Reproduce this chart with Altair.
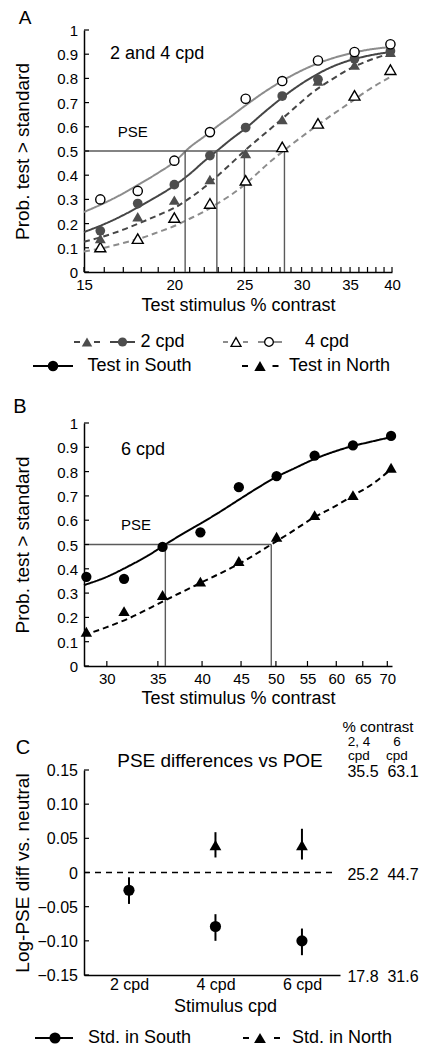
import altair as alt
import pandas as pd

FONT = "Liberation Sans"

# ---------------- Panel A data (2 and 4 cpd) ----------------
contrast_A = [15.8, 17.8, 20.0, 22.4, 25.1, 28.2, 31.6, 35.5, 39.8]
p2_south = [0.170, 0.283, 0.361, 0.481, 0.597, 0.727, 0.796, 0.881, 0.913]
p2_north = [0.138, 0.228, 0.297, 0.382, 0.490, 0.630, 0.789, 0.855, 0.908]
p4_south = [0.300, 0.335, 0.460, 0.578, 0.716, 0.789, 0.874, 0.909, 0.941]
p4_north = [0.103, 0.138, 0.225, 0.283, 0.379, 0.517, 0.614, 0.730, 0.836]

# fitted curves
fitA_x = [15, 16, 17, 18, 19, 20, 21, 22, 23, 24, 25, 27, 29, 31, 33, 35, 37, 40]
fit2_south = [0.165, 0.198, 0.235, 0.275, 0.315, 0.357, 0.405, 0.458, 0.505, 0.550, 0.590, 0.675, 0.748, 0.805, 0.847, 0.875, 0.893, 0.910]
fit2_north = [0.125, 0.148, 0.175, 0.205, 0.235, 0.265, 0.305, 0.350, 0.400, 0.450, 0.500, 0.585, 0.665, 0.740, 0.795, 0.840, 0.872, 0.905]
fit4_south = [0.248, 0.285, 0.325, 0.368, 0.410, 0.455, 0.515, 0.560, 0.605, 0.645, 0.685, 0.755, 0.810, 0.852, 0.882, 0.903, 0.918, 0.930]
fit4_north = [0.085, 0.100, 0.120, 0.140, 0.165, 0.190, 0.220, 0.250, 0.285, 0.320, 0.360, 0.450, 0.525, 0.590, 0.648, 0.700, 0.750, 0.810]
pse_A = [20.7, 22.9, 25.0, 28.4]

# ---------------- Panel B data (6 cpd) ----------------
contrast_B = [28.2, 31.6, 35.5, 39.8, 44.7, 50.1, 56.2, 63.1, 70.8]
p6_south = [0.367, 0.359, 0.490, 0.550, 0.736, 0.781, 0.866, 0.908, 0.947]
p6_north = [0.141, 0.226, 0.292, 0.347, 0.432, 0.532, 0.621, 0.703, 0.816]
fitB_s_x = [28, 30, 32, 34, 35.8, 38, 40, 42, 45, 48, 50, 53, 56, 60, 63, 66, 70.8]
fit6_south = [0.333, 0.367, 0.410, 0.455, 0.500, 0.550, 0.590, 0.630, 0.690, 0.745, 0.777, 0.815, 0.850, 0.885, 0.905, 0.920, 0.942]
fitB_n_x = [28, 30, 32, 35.5, 40, 45, 49.3, 52, 56, 60, 63, 67, 70.8]
fit6_north = [0.127, 0.160, 0.195, 0.265, 0.345, 0.425, 0.500, 0.545, 0.610, 0.660, 0.700, 0.750, 0.810]
pse_B = [35.8, 49.3]

# ---------------- Panel C data ----------------
cpd_s = [2, 4, 6]
south_mean = [-0.026, -0.079, -0.100]
south_lo = [-0.046, -0.100, -0.121]
south_hi = [-0.007, -0.061, -0.082]
cpd_n = [4, 6]
north_mean = [0.040, 0.040]
north_lo = [0.022, 0.019]
north_hi = [0.059, 0.064]
right_ticks = [0.15, 0.0, -0.15]
right_24 = ["35.5", "25.2", "17.8"]
right_6 = ["63.1", "44.7", "31.6"]

# axis tick values and labels
yticks_prob = [0.0, 0.1, 0.2, 0.3, 0.4, 0.5, 0.6, 0.7, 0.8, 0.9, 1.0]
ylabels_prob = ["0", "0.1", "0.2", "0.3", "0.4", "0.5", "0.6", "0.7", "0.8", "0.9", "1"]
xticks_A_minor = list(range(15, 41))
xticks_A_major = [15, 20, 25, 30, 35, 40]
xticks_B = [30, 35, 40, 45, 50, 55, 60, 65, 70]
yticks_C = [-0.15, -0.10, -0.05, 0.0, 0.05, 0.10, 0.15]
ylabels_C = ["\u22120.15", "\u22120.10", "\u22120.05", "0", "0.05", "0.10", "0.15"]

DARK = "#454545"
LIGHT = "#8c8c8c"
MARK_DARK = "#4d4d4d"
PSE_COL = "#5a5a5a"

one = pd.DataFrame({"k": [0]})


def ptext(txt, x, y, size, align="left", baseline="middle"):
    return alt.Chart(one).mark_text(text=txt, fontSize=size, align=align, baseline=baseline,
                                    font=FONT, color="black").encode(x=alt.value(x), y=alt.value(y))


def dtext(txt, x, y, size, xs, ys):
    return alt.Chart(pd.DataFrame({"x": [x], "y": [y]})).mark_text(
        text=txt, fontSize=size, font=FONT, align="left", baseline="middle", color="black"
    ).encode(x=alt.X("x:Q", scale=xs), y=alt.Y("y:Q", scale=ys))


def ylabels(vals, labs, ys, size):
    return alt.Chart(pd.DataFrame({"y": vals, "t": labs})).mark_text(
        fontSize=size, font=FONT, align="right", baseline="middle", color="black", dy=1
    ).encode(x=alt.value(-6), y=alt.Y("y:Q", scale=ys), text="t:N")


def seg(x1, x2, y, color, dash=None, width=2.0):
    kw = dict(color=color, strokeWidth=width)
    if dash is not None:
        kw["strokeDash"] = dash
    return alt.Chart(one).mark_rule(**kw).encode(x=alt.value(x1), x2=alt.value(x2), y=alt.value(y))


def sym(x, y, shape, fill, size, stroke=None, sw=0.0):
    kw = dict(shape=shape, filled=True, fill=fill, size=size, opacity=1, strokeWidth=sw)
    if stroke is not None:
        kw["stroke"] = stroke
    return alt.Chart(one).mark_point(**kw).encode(x=alt.value(x), y=alt.value(y))


def pts(df, shape, fill, size, stroke=None, sw=0.0, xs=None, ys=None):
    kw = dict(shape=shape, filled=True, fill=fill, size=size, opacity=1, strokeWidth=sw)
    if stroke is not None:
        kw["stroke"] = stroke
    return alt.Chart(df).mark_point(**kw).encode(x=alt.X("x:Q", scale=xs), y=alt.Y("y:Q", scale=ys))


def yaxis(title, h):
    return alt.Axis(title=title, labels=False, ticks=False, tickSize=0, grid=False,
                    domainColor="black", domainWidth=1.5, titleFont=FONT, titleFontSize=19,
                    titleFontWeight="normal", titleColor="black", titleAngle=270, titleAlign="center",
                    titleBaseline="middle", titleX=-62, titleY=h / 2)


def xaxis(title, w, values, ty=33, fmt=None, expr=None, tx=None, lsize=15, lpad=5):
    kw = dict(title=title, values=values, ticks=False, tickSize=0, grid=False, labelPadding=lpad,
              labelFont=FONT, labelFontSize=lsize, labelColor="black", domainColor="black",
              domainWidth=1.5, titleFont=FONT, titleFontSize=18, titleFontWeight="normal",
              titleColor="black", titleBaseline="middle", titleAlign="center",
              titleX=(w / 2 if tx is None else tx), titleY=ty, labelFlush=False, labelOverlap=False)
    if fmt is not None:
        kw["format"] = fmt
    if expr is not None:
        kw["labelExpr"] = expr
    return alt.Axis(**kw)


# ====================== Panel A ======================
WA, HA = 308, 242
xsA = alt.Scale(type="log", domain=[15, 40], nice=False)
ysA = alt.Scale(domain=[0, 1], nice=False)

curvesA = pd.concat([
    pd.DataFrame({"x": fitA_x, "y": fit2_south, "s": "2S"}),
    pd.DataFrame({"x": fitA_x, "y": fit2_north, "s": "2N"}),
    pd.DataFrame({"x": fitA_x, "y": fit4_south, "s": "4S"}),
    pd.DataFrame({"x": fitA_x, "y": fit4_north, "s": "4N"}),
])

baseA = alt.Chart(curvesA).mark_line(strokeWidth=2, interpolate="monotone").encode(
    x=alt.X("x:Q", scale=xsA, axis=xaxis("Test stimulus % contrast", WA, xticks_A_major, fmt="d")),
    y=alt.Y("y:Q", scale=ysA, axis=yaxis("Prob. test > standard", HA)),
    color=alt.Color("s:N", scale=alt.Scale(domain=["2S", "2N", "4S", "4N"], range=[DARK, DARK, LIGHT, LIGHT]), legend=None),
    strokeDash=alt.StrokeDash("s:N", scale=alt.Scale(domain=["2S", "2N", "4S", "4N"], range=[[1, 0], [6, 4], [1, 0], [6, 4]]), legend=None),
    detail="s:N",
)

pseA_v = alt.Chart(pd.DataFrame({"x": pse_A, "y0": 0.0, "y1": 0.5})).mark_rule(color=PSE_COL, strokeWidth=1.4).encode(
    x=alt.X("x:Q", scale=xsA), y=alt.Y("y0:Q", scale=ysA), y2="y1:Q")
pseA_h = alt.Chart(pd.DataFrame({"x": [15], "x2": [max(pse_A)], "y": [0.5]})).mark_rule(color=PSE_COL, strokeWidth=1.4).encode(
    x=alt.X("x:Q", scale=xsA), x2="x2:Q", y=alt.Y("y:Q", scale=ysA))

ytickA = alt.Chart(pd.DataFrame({"y": yticks_prob})).mark_rule(color="black", strokeWidth=1.2).encode(
    y=alt.Y("y:Q", scale=ysA), x=alt.value(0), x2=alt.value(5))
xtickA = alt.Chart(pd.DataFrame({"x": xticks_A_minor})).mark_rule(color="black", strokeWidth=1.2).encode(
    x=alt.X("x:Q", scale=xsA), y=alt.value(HA), y2=alt.value(HA - 5))

dfA = lambda ys: pd.DataFrame({"x": contrast_A, "y": ys})
ptsA = [
    pts(dfA(p4_north), "triangle-up", "white", 120, "black", 1.4, xsA, ysA),
    pts(dfA(p2_north), "triangle-up", MARK_DARK, 120, xs=xsA, ys=ysA),
    pts(dfA(p2_south), "circle", MARK_DARK, 95, xs=xsA, ys=ysA),
    pts(dfA(p4_south), "circle", "white", 85, "black", 1.4, xsA, ysA),
]

legA = [
    seg(-10, 16, 312, DARK, [6, 14]), sym(3, 312, "triangle-up", MARK_DARK, 110),
    seg(26, 51, 312, DARK), sym(38.5, 312, "circle", MARK_DARK, 85),
    ptext("2 cpd", 56.5, 312, 18),
    seg(139, 164, 312, LIGHT, [5, 15]), sym(152, 312, "triangle-up", "white", 100, "black", 1.3),
    seg(174, 198, 312, LIGHT), sym(185, 312, "circle", "white", 75, "black", 1.3),
    ptext("4 cpd", 221, 312, 18),
    seg(-51, -11, 336, "black"), sym(-31, 336, "circle", "black", 110),
    ptext("Test in South", 3.5, 336, 18),
    seg(158, 194.5, 336, "black", [6, 24.5]), sym(176, 336, "triangle-up", "black", 130),
    ptext("Test in North", 205, 336, 18),
]

textA = [
    ptext("A", -59, -12, 19, align="center"),
    dtext("2 and 4 cpd", 16.3, 0.9, 18, xsA, ysA),
    dtext("PSE", 16.7, 0.58, 15, xsA, ysA),
    ylabels(yticks_prob, ylabels_prob, ysA, 15),
]

panelA = alt.layer(baseA, pseA_v, pseA_h, ytickA, xtickA, *ptsA, *textA, *legA).properties(width=WA, height=HA)

# ====================== Panel B ======================
WB, HB = 308, 243
xsB = alt.Scale(type="log", domain=[28, 71], nice=False)
ysB = alt.Scale(domain=[0, 1], nice=False)

curvesB = pd.concat([
    pd.DataFrame({"x": fitB_s_x, "y": fit6_south, "s": "S"}),
    pd.DataFrame({"x": fitB_n_x, "y": fit6_north, "s": "N"}),
])
baseB = alt.Chart(curvesB).mark_line(strokeWidth=2, interpolate="monotone", color="black").encode(
    x=alt.X("x:Q", scale=xsB, axis=xaxis("Test stimulus % contrast", WB, xticks_B, ty=32, fmt="d")),
    y=alt.Y("y:Q", scale=ysB, axis=yaxis("Prob. test > standard", HB)),
    strokeDash=alt.StrokeDash("s:N", scale=alt.Scale(domain=["S", "N"], range=[[1, 0], [7, 5]]), legend=None),
    detail="s:N",
)
pseB_v = alt.Chart(pd.DataFrame({"x": pse_B, "y0": 0.0, "y1": 0.5})).mark_rule(color=PSE_COL, strokeWidth=1.4).encode(
    x=alt.X("x:Q", scale=xsB), y=alt.Y("y0:Q", scale=ysB), y2="y1:Q")
pseB_h = alt.Chart(pd.DataFrame({"x": [28], "x2": [max(pse_B)], "y": [0.5]})).mark_rule(color=PSE_COL, strokeWidth=1.4).encode(
    x=alt.X("x:Q", scale=xsB), x2="x2:Q", y=alt.Y("y:Q", scale=ysB))
ytickB = alt.Chart(pd.DataFrame({"y": yticks_prob})).mark_rule(color="black", strokeWidth=1.2).encode(
    y=alt.Y("y:Q", scale=ysB), x=alt.value(0), x2=alt.value(5))
xtickB = alt.Chart(pd.DataFrame({"x": xticks_B})).mark_rule(color="black", strokeWidth=1.2).encode(
    x=alt.X("x:Q", scale=xsB), y=alt.value(HB), y2=alt.value(HB - 5))
dfB = lambda ys: pd.DataFrame({"x": contrast_B, "y": ys})
ptsB = [
    pts(dfB(p6_north), "triangle-up", "black", 130, xs=xsB, ys=ysB),
    pts(dfB(p6_south), "circle", "black", 105, xs=xsB, ys=ysB),
]
textB = [
    ptext("B", -64, -16, 20, align="center"),
    dtext("6 cpd", 31.3, 0.89, 18, xsB, ysB),
    dtext("PSE", 31.3, 0.58, 15, xsB, ysB),
    ylabels(yticks_prob, ylabels_prob, ysB, 15),
]
panelB = alt.layer(baseB, pseB_v, pseB_h, ytickB, xtickB, *ptsB, *textB).properties(width=WB, height=HB)

# ====================== Panel C ======================
WC, HC = 256, 205
xsC = alt.Scale(domain=[0.96, 6.88], nice=False, zero=False)
ysC = alt.Scale(domain=[-0.15, 0.15], nice=False)

errS = alt.Chart(pd.DataFrame({"x": cpd_s, "lo": south_lo, "hi": south_hi})).mark_rule(color="black", strokeWidth=2).encode(
    x=alt.X("x:Q", scale=xsC, axis=xaxis("Stimulus cpd", WC, cpd_s, ty=31, expr="datum.value + ' cpd'", tx=141, lsize=16, lpad=1)),
    y=alt.Y("lo:Q", scale=ysC, axis=yaxis("Log-PSE diff vs. neutral", HC)),
    y2="hi:Q")
errN = alt.Chart(pd.DataFrame({"x": cpd_n, "lo": north_lo, "hi": north_hi})).mark_rule(color="black", strokeWidth=2).encode(
    x=alt.X("x:Q", scale=xsC), y=alt.Y("lo:Q", scale=ysC), y2="hi:Q")
zeroC = alt.Chart(pd.DataFrame({"y": [0.0]})).mark_rule(color="black", strokeWidth=1.6, strokeDash=[6, 5]).encode(
    y=alt.Y("y:Q", scale=ysC), x=alt.value(0), x2=alt.value(249))
ytickC = alt.Chart(pd.DataFrame({"y": yticks_C})).mark_rule(color="black", strokeWidth=1.2).encode(
    y=alt.Y("y:Q", scale=ysC), x=alt.value(0), x2=alt.value(5))
ptsC = [
    pts(pd.DataFrame({"x": cpd_n, "y": north_mean}), "triangle-up", "black", 140, xs=xsC, ys=ysC),
    pts(pd.DataFrame({"x": cpd_s, "y": south_mean}), "circle", "black", 125, xs=xsC, ys=ysC),
]
rightdf = pd.DataFrame({"y": right_ticks, "a": right_24, "b": right_6})
rightC = [
    alt.Chart(rightdf).mark_text(fontSize=16, font=FONT, align="center", baseline="middle", color="black", dy=2).encode(
        x=alt.value(279), y=alt.Y("y:Q", scale=ysC), text="a:N"),
    alt.Chart(rightdf).mark_text(fontSize=16, font=FONT, align="center", baseline="middle", color="black", dy=2).encode(
        x=alt.value(319), y=alt.Y("y:Q", scale=ysC), text="b:N"),
]
textC = [
    ptext("C", -61, -22, 20, align="center"),
    ptext("PSE differences vs POE", 136, -9, 19, align="center"),
    ptext("% contrast", 294, -43, 15, align="center"),
    ptext("2, 4", 275, -28.5, 13.5, align="center"),
    ptext("6", 313, -28.5, 13.5, align="center"),
    ptext("cpd", 275, -14.5, 13.5, align="center"),
    ptext("cpd", 313, -14.5, 13.5, align="center"),
    ylabels(yticks_C, ylabels_C, ysC, 16),
]
legC = [
    seg(-49, -11, 268, "black"), sym(-29, 268, "circle", "black", 125),
    ptext("Std. in South", 4, 268, 18),
    seg(159, 196, 268, "black", [6, 25]), sym(176, 268, "triangle-up", "black", 140),
    ptext("Std. in North", 208, 268, 18),
]
panelC = alt.layer(errS, errN, zeroC, ytickC, *ptsC, *rightC, *textC, *legC).properties(width=WC, height=HC)

topAB = alt.vconcat(panelA, panelB, spacing=22)
chart = alt.vconcat(topAB, panelC, spacing=13).properties(
    padding={"left": 5, "top": 1, "right": 0, "bottom": 0}
).configure_view(stroke=None)

chart.save("out.html", embed_options={"renderer": "svg", "actions": False})
